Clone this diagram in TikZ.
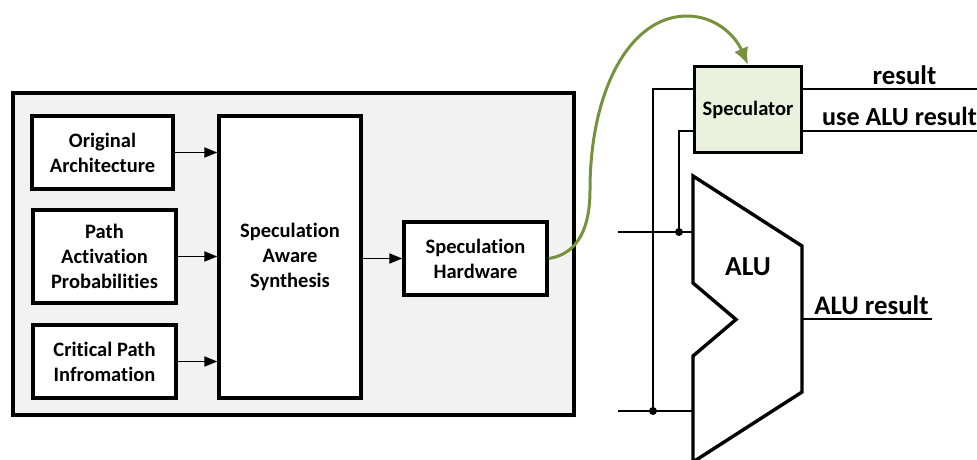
\documentclass[tikz,border=0pt]{standalone}
\usepackage{fontspec}
\setmainfont[Ligatures=NoCommon]{Carlito}
\usetikzlibrary{arrows.meta,positioning}
\definecolor{panelgray}{HTML}{F2F2F2}
\definecolor{specgreen}{HTML}{EAF1DD}
\definecolor{curvegreen}{HTML}{76923C}
\tikzset{
  flow-panel/.style={draw=black, fill=panelgray, line width=3.2pt, minimum width=561pt, minimum height=322pt},
  flow-box/.style={draw=black, fill=white, line width=3.4pt, align=center,
    font=\bfseries\fontsize{20.5}{25}\selectfont, inner sep=0pt},
  wire-label/.style={font=\bfseries\fontsize{26.8}{25}\selectfont, inner sep=0pt},
  wire/.style={line width=2pt, draw=black},
  flow-arrow/.style={line width=1.9pt, -{Triangle[length=13pt,width=10pt]}},
  wire-dot/.style={circle, fill=black, inner sep=0pt, minimum size=8pt}
}
\begin{document}
\begin{tikzpicture}[>=Latex, x=1pt, y=-1pt]
  \useasboundingbox (0,0) rectangle (977,459);

  % Synthesis panel
  \node[flow-panel] (panel) at (293.5,254) {};
  \node[flow-box, minimum width=141pt, minimum height=73pt] (original) at (102.5,152.5) {Original\\Architecture};
  \node[flow-box, minimum width=143pt, minimum height=93pt] (activation) at (104.5,256.5) {Path\\Activation\\Probabilities};
  \node[flow-box, minimum width=143pt, minimum height=73pt] (critical) at (104.5,361.5) {Critical Path\\Infromation};
  \node[flow-box, minimum width=142pt, minimum height=282pt] (synthesis) at (290,257) {Speculation\\Aware\\Synthesis};
  \node[flow-box, minimum width=143pt, minimum height=73pt] (hardware) at (475.5,258.5) {Speculation\\Hardware};

  % Arrows into and out of synthesis
  \draw[flow-arrow] (original) -- (original -| synthesis.west);
  \draw[flow-arrow] (activation) -- (activation -| synthesis.west);
  \draw[flow-arrow] (critical) -- (critical -| synthesis.west);
  \draw[flow-arrow] (synthesis.east |- hardware) -- (hardware);

  % ALU body
  \draw[line width=3.4pt, draw=black, miter limit=10] (693,176) -- (802,246) -- (802,392) -- (693,462)
    -- (693,356) -- (736,319.5) -- (693,283) -- cycle;
  \node[wire-label, font=\bfseries\fontsize{27.5}{25}\selectfont] (alu) at (748,267) {ALU};

  % Speculator
  \node[flow-box, fill=specgreen, font=\bfseries\fontsize{20.5}{20}\selectfont, minimum width=107pt, minimum height=86pt] (speculator) at (748,109.5) {Speculator};

  % Wire ends
  \coordinate (inputa) at (618,232);
  \coordinate (inputb) at (618,411);
  \coordinate (alua) at (693,232);
  \coordinate (alub) at (693,411);
  \coordinate (aluout) at (802,319);
  \coordinate (resultend) at (977,88.5);
  \coordinate (useend) at (977,131);
  \coordinate (aluoutend) at (932,319);
  \coordinate (specin) at (speculator.west |- resultend);
  \coordinate (specsel) at (speculator.west |- useend);
  \node[wire-dot] (dota) at (679,232) {};
  \node[wire-dot] (dotb) at (653,411) {};

  % Wires
  \draw[wire] (inputa) -- (alua);
  \draw[wire] (inputb) -- (alub);
  \draw[wire] (dotb.center) |- (specin);
  \draw[wire] (dota.center) |- (specsel);
  \draw[wire] (speculator.east |- resultend) -- (resultend);
  \draw[wire] (speculator.east |- useend) -- (useend);
  \draw[wire] (aluout) -- (aluoutend);

  % Wire labels
  \node[wire-label] (result) at (904.5,75) {result};
  \node[wire-label, anchor=west, font=\bfseries\fontsize{26.1}{25}\selectfont] (useresult) at (822,116) {use ALU result};
  \node[wire-label] (aluresult) at (871.5,305) {ALU result};

  % Generated hardware goes to speculator
  \draw[line width=3pt, curvegreen, -{Latex[length=17pt,width=15pt]}] (hardware.east)
    .. controls (578,254) and (590,228) .. (590,190)
    .. controls (590,90) and (630,16) .. (687,16)
    .. controls (715,16) and (735,35) .. (speculator.north);
\end{tikzpicture}
\end{document}
